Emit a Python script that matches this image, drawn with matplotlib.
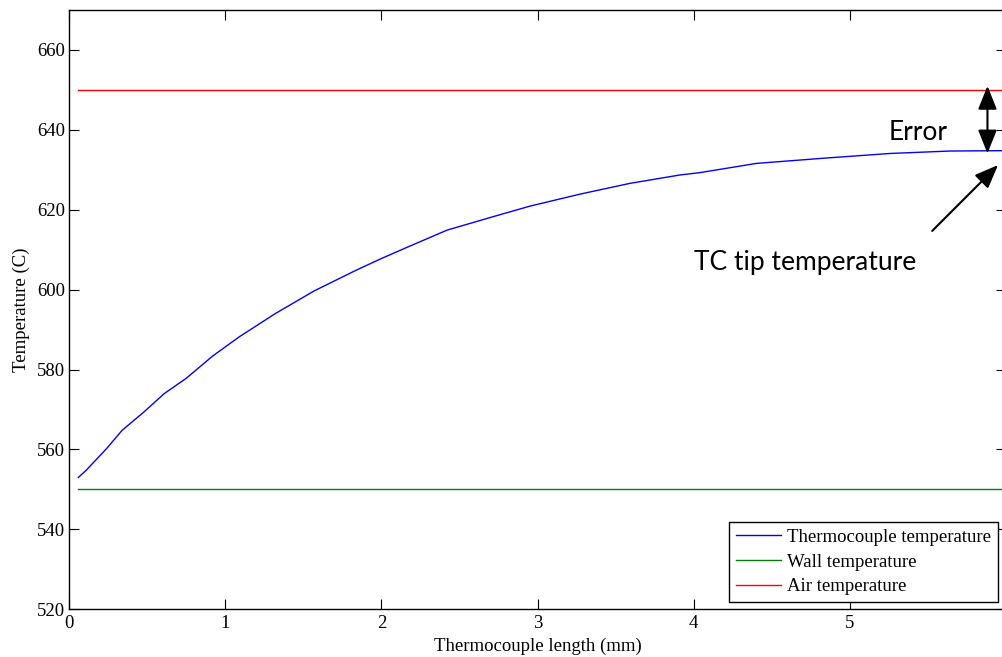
import matplotlib
matplotlib.use("Agg")
import matplotlib.pyplot as plt

# Data
tc_x = [0.06, 0.11, 0.24, 0.34, 0.48, 0.61, 0.75, 0.92, 1.09, 1.32, 1.57, 1.84,
        2.00, 2.17, 2.42, 2.70, 2.95, 3.27, 3.59, 3.91, 4.04, 4.40, 4.83, 5.26,
        5.64, 6.00]
tc_temp = [553.0, 554.8, 560.2, 564.8, 569.4, 574.0, 577.8, 583.4, 588.2, 594.0,
           599.7, 604.9, 607.8, 610.7, 614.9, 618.1, 620.9, 623.9, 626.6, 628.7,
           629.3, 631.6, 632.9, 634.1, 634.7, 634.8]
line_x = [0.06, 6.0]
wall_temp = [550, 550]
air_temp = [650, 650]
x_ticks = [0, 1, 2, 3, 4, 5]
y_ticks = [520, 540, 560, 580, 600, 620, 640, 660]
labels = ["Thermocouple temperature", "Wall temperature", "Air temperature"]

serif = "Liberation Serif"
sans = "Lato"
fs = 13.5

fig = plt.figure(figsize=(10.03, 6.57), dpi=100)
W, H = 1003, 657
ax = fig.add_axes([69 / W, 1 - 609.3 / H, (1006.2 - 69) / W, (609.3 - 10) / H])

ax.plot(tc_x, tc_temp, color="#0000ff", lw=1.0, label=labels[0])
ax.plot(line_x, wall_temp, color="#008000", lw=1.0, label=labels[1])
ax.plot(line_x, air_temp, color="#ff0000", lw=1.0, label=labels[2])

ax.set_xlim(0, 6)
ax.set_ylim(520, 670)
ax.set_xticks(x_ticks)
ax.set_yticks(y_ticks)
ax.tick_params(direction="in", length=7, width=0.8, top=True, right=True,
               labelsize=fs, colors="black")
ax.tick_params(axis="x", pad=4)
ax.tick_params(axis="y", pad=3)
for lab in ax.get_xticklabels() + ax.get_yticklabels():
    lab.set_fontfamily(serif)
for s in ax.spines.values():
    s.set_linewidth(1.0)
    s.set_color("black")

ax.set_xlabel("Thermocouple length (mm)", fontfamily=serif, fontsize=fs, labelpad=4)
ax.set_ylabel("Temperature (C)", fontfamily=serif, fontsize=fs, labelpad=5)

leg = ax.legend(loc="lower right", bbox_to_anchor=(0.991, 0.0127), borderaxespad=0,
                prop={"family": serif, "size": fs}, fancybox=False, framealpha=1,
                edgecolor="black", handlelength=2.4, handletextpad=0.35,
                labelspacing=0.4, borderpad=0.35)
leg.get_frame().set_linewidth(1.0)

# Annotations
ax.annotate("", xy=(5.88, 651.0), xytext=(5.88, 634.1),
            arrowprops=dict(arrowstyle="<|-|>,head_length=1.0,head_width=0.4",
                            mutation_scale=14.4, color="black", lw=1.5,
                            shrinkA=0, shrinkB=0))
ax.annotate("", xy=(5.948, 631.2), xytext=(5.526, 614.7),
            arrowprops=dict(arrowstyle="-|>,head_length=1.0,head_width=0.4",
                            mutation_scale=14.4, color="black", lw=1.5,
                            shrinkA=0, shrinkB=0))
ax.text(5.25, 637.5, "Error", fontfamily=sans, fontsize=19, ha="left", va="baseline")
ax.text(4.0, 604.9, "TC tip temperature", fontfamily=sans, fontsize=19,
        ha="left", va="baseline")

fig.savefig("out.png", dpi=100)
